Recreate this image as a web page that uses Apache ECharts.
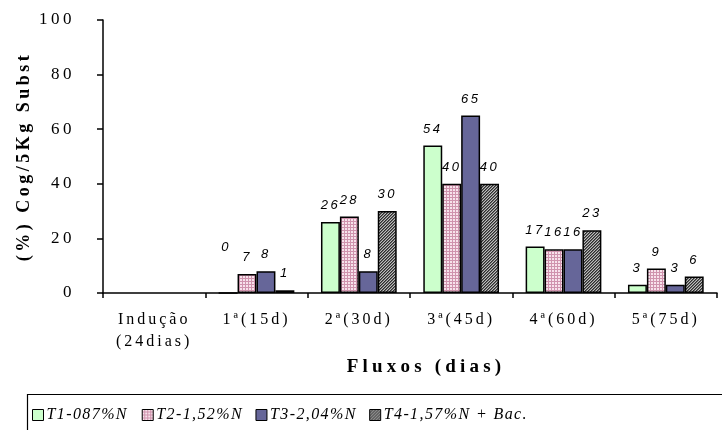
<!DOCTYPE html>
<html>
<head>
<meta charset="utf-8">
<script src="https://cdn.jsdelivr.net/npm/echarts@6/dist/echarts.min.js"></script>
<style>
  html, body { margin: 0; padding: 0; background: #fff; }
  #chart { width: 722px; height: 430px; }
</style>
</head>
<body>
<div id="chart"></div>
<script>
// Flow periods (x axis)
const categories = ['Indução\n(24dias)', '1ª(15d)', '2ª(30d)', '3ª(45d)', '4ª(60d)', '5ª(75d)'];
// Treatment names
const seriesNames = ['T1-087%N', 'T2-1,52%N', 'T3-2,04%N', 'T4-1,57%N + Bac.'];
// Values per treatment (% Cog/5Kg Subst); no record during induction
const t1Values = [null, 0, 26, 54, 17, 3];
const t2Values = [null, 7, 28, 40, 16, 9];
const t3Values = [null, 8, 8, 65, 16, 3];
const t4Values = [null, 1, 30, 40, 23, 6];
const yTicks = [0, 20, 40, 60, 80, 100];

// Wide letter spacing for the chart's text, chosen by font
function spacingFor(font) {
  const m = /(\d+(?:\.\d+)?)px/.exec(font);
  const size = m ? parseFloat(m[1]) : 12;
  const italic = /italic/.test(font);
  const bold = /bold|[6-9]00/.test(font);
  if (italic && size === 13) return 2.5;
  if (italic && size === 16) return 1.4;
  if (bold && size === 19) return 4.2;
  if (bold && size === 18) return 3.5;
  if (size === 16) return 3;
  if (size === 17) return 3.5;
  return 0;
}
const baseFillText = CanvasRenderingContext2D.prototype.fillText;
CanvasRenderingContext2D.prototype.fillText = function (text, x, y, maxWidth) {
  const s = spacingFor(this.font);
  if (s && 'letterSpacing' in this) {
    const prev = this.letterSpacing;
    this.letterSpacing = s + 'px';
    if (maxWidth === undefined) baseFillText.call(this, text, x, y);
    else baseFillText.call(this, text, x, y, maxWidth);
    this.letterSpacing = prev;
  } else if (maxWidth === undefined) {
    baseFillText.call(this, text, x, y);
  } else {
    baseFillText.call(this, text, x, y, maxWidth);
  }
};

// Small tiles used as fill patterns
function dotPattern() {
  const c = document.createElement('canvas');
  c.width = 3; c.height = 3;
  const g = c.getContext('2d');
  g.fillStyle = '#cf93ad';
  g.fillRect(0, 0, 3, 3);
  g.fillStyle = '#f7e2eb';
  g.fillRect(0, 0, 2, 2);
  return c;
}
function hatchPattern() {
  const c = document.createElement('canvas');
  c.width = 3; c.height = 3;
  const g = c.getContext('2d');
  g.fillStyle = '#bdbdbd';
  g.fillRect(0, 0, 3, 3);
  g.fillStyle = '#2e2e2e';
  g.fillRect(2, 0, 1, 1);
  g.fillRect(1, 1, 1, 1);
  g.fillRect(0, 2, 1, 1);
  g.fillStyle = '#6a6a6a';
  g.fillRect(0, 0, 1, 1);
  g.fillRect(2, 1, 1, 1);
  g.fillRect(1, 2, 1, 1);
  return c;
}

const fills = [
  '#ccffcc',
  { image: dotPattern(), repeat: 'repeat' },
  '#666699',
  { image: hatchPattern(), repeat: 'repeat' }
];
const dataSets = [t1Values, t2Values, t3Values, t4Values];

const serif = '"Liberation Serif", "Times New Roman", serif';
const sans = '"Liberation Sans", Arial, sans-serif';

// The zero label of T1 in the first flow sits higher than the others
function seriesData(values, i) {
  return values.map((v, j) =>
    (i === 0 && v === 0) ? { value: v, label: { offset: [-2, -28] } } : v
  );
}

const chart = echarts.init(document.getElementById('chart'));
chart.setOption({
  animation: false,
  backgroundColor: '#fff',
  grid: { left: 103, right: 5, top: 20, bottom: 137 },
  legend: {
    left: 27,
    top: 402,
    itemWidth: 11,
    itemHeight: 11,
    itemGap: 25,
    icon: 'rect',
    data: seriesNames,
    itemStyle: { borderColor: '#000', borderWidth: 1 },
    textStyle: { fontFamily: serif, fontStyle: 'italic', fontSize: 16, color: '#000', padding: [0, 0, 0, -2] }
  },
  graphic: [{
    type: 'rect',
    shape: { x: 27.5, y: 394.5, width: 720, height: 60 },
    style: { fill: 'none', stroke: '#000', lineWidth: 1.2 },
    silent: true,
    z: -1
  }],
  xAxis: {
    type: 'category',
    data: categories,
    name: 'Fluxos (dias)',
    nameLocation: 'middle',
    nameGap: 63,
    nameTextStyle: { fontFamily: serif, fontWeight: 'bold', fontSize: 19, color: '#000', padding: [0, 0, 0, 32] },
    axisLine: { lineStyle: { color: '#000', width: 1.5 } },
    axisTick: { show: true, length: 5, lineStyle: { color: '#000', width: 1.5 } },
    axisLabel: { fontFamily: serif, fontSize: 16, color: '#000', margin: 16, lineHeight: 22 }
  },
  yAxis: {
    type: 'value',
    min: yTicks[0],
    max: yTicks[yTicks.length - 1],
    interval: yTicks[1] - yTicks[0],
    name: '(%) Cog/5Kg Subst',
    nameLocation: 'middle',
    nameGap: 70,
    nameTextStyle: { fontFamily: serif, fontWeight: 'bold', fontSize: 18, color: '#000' },
    axisLine: { show: true, lineStyle: { color: '#000', width: 1.5 } },
    axisTick: { show: true, length: 6, lineStyle: { color: '#000', width: 1.5 } },
    axisLabel: { fontFamily: serif, fontSize: 17, color: '#000', margin: 28 },
    splitLine: { show: false }
  },
  series: seriesNames.map((name, i) => ({
    name,
    type: 'bar',
    data: seriesData(dataSets[i], i),
    barGap: '0%',
    barCategoryGap: '26%',
    itemStyle: { color: fills[i], borderColor: '#000', borderWidth: 1.5 },
    label: {
      show: true,
      position: 'top',
      distance: 10,
      fontFamily: sans,
      fontStyle: 'italic',
      fontSize: 13,
      color: '#000'
    }
  }))
});
</script>
</body>
</html>
